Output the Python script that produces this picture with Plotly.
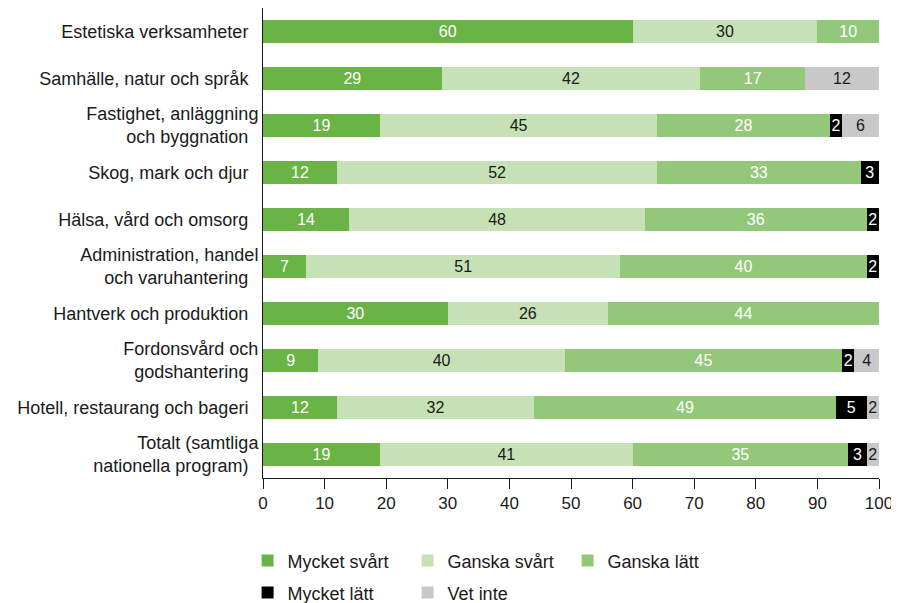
import plotly.graph_objects as go

# ---------- Data ----------
kategorier = [
    "Estetiska verksamheter",
    "Samhälle, natur och språk",
    "Fastighet, anläggning<br>och byggnation",
    "Skog, mark och djur",
    "Hälsa, vård och omsorg",
    "Administration, handel<br>och varuhantering",
    "Hantverk och produktion",
    "Fordonsvård och<br>godshantering",
    "Hotell, restaurang och bageri",
    "Totalt (samtliga<br>nationella program)",
]

mycket_svart = [60, 29, 19, 12, 14, 7, 30, 9, 12, 19]
ganska_svart = [30, 42, 45, 52, 48, 51, 26, 40, 32, 41]
ganska_latt = [10, 17, 28, 33, 36, 40, 44, 45, 49, 35]
mycket_latt = [0, 0, 2, 3, 2, 2, 0, 2, 5, 3]
vet_inte = [0, 12, 6, 0, 0, 0, 0, 4, 2, 2]

x_ticks = [0, 10, 20, 30, 40, 50, 60, 70, 80, 90, 100]

serier = [
    ("Mycket svårt", mycket_svart, "#6ab345", "white", "legend"),
    ("Ganska svårt", ganska_svart, "#c6e1b5", "#1a1a1a", "legend"),
    ("Ganska lätt", ganska_latt, "#93c87a", "white", "legend"),
    ("Mycket lätt", mycket_latt, "#000000", "white", "legend2"),
    ("Vet inte", vet_inte, "#c8c8c8", "#1a1a1a", "legend2"),
]

FONT = "Liberation Sans"

fig = go.Figure()
for namn, varden, farg, textfarg, leg in serier:
    fig.add_trace(go.Bar(
        y=kategorier,
        x=varden,
        name=namn,
        orientation="h",
        marker=dict(color=farg, line=dict(width=0)),
        text=[str(v) if v > 0 else "" for v in varden],
        textposition="inside",
        insidetextanchor="middle",
        textangle=0,
        textfont=dict(color=textfarg, size=16, family=FONT),
        legend=leg,
        hoverinfo="skip",
    ))

# sidan har 8 px marginal i body, därför något mindre figur
fig.update_layout(
    barmode="stack",
    bargap=0.53,
    width=891,
    height=595,
    margin=dict(l=255, r=20, t=0, b=125, autoexpand=False),
    plot_bgcolor="white",
    paper_bgcolor="white",
    font=dict(family=FONT, size=17, color="#1a1a1a"),
    uniformtext=dict(minsize=16, mode="show"),
    xaxis=dict(
        range=[0, 100],
        tickvals=x_ticks,
        ticks="outside",
        ticklen=10,
        tickcolor="#1a1a1a",
        showgrid=False,
        showline=True,
        linecolor="#1a1a1a",
        linewidth=1,
        zeroline=False,
        tickfont=dict(size=17),
    ),
    yaxis=dict(
        autorange="reversed",
        showline=True,
        linecolor="#1a1a1a",
        linewidth=1,
        ticks="",
        showgrid=False,
        ticksuffix="  ",
        tickfont=dict(size=18),
    ),
    legend=dict(
        orientation="h",
        x=-0.025, xanchor="left",
        y=-0.137, yanchor="top",
        entrywidth=115,
        font=dict(size=18),
        traceorder="normal",
    ),
    legend2=dict(
        orientation="h",
        x=-0.025, xanchor="left",
        y=-0.205, yanchor="top",
        entrywidth=115,
        font=dict(size=18),
        traceorder="normal",
    ),
)

fig.write_html("out.html")
